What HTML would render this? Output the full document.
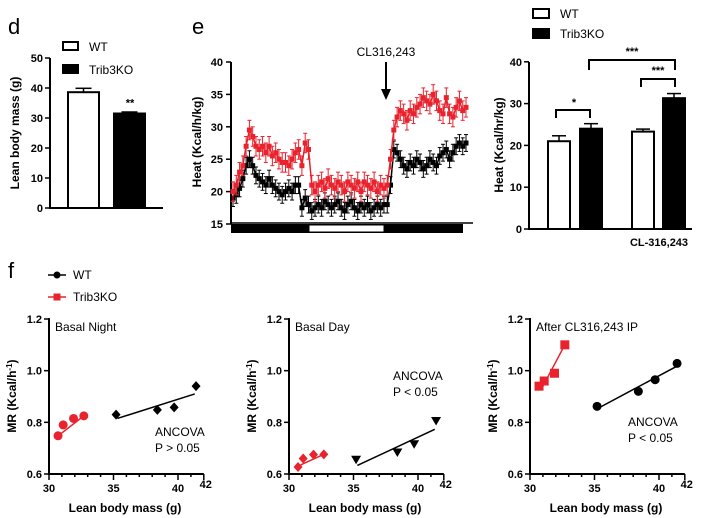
<!DOCTYPE html>
<html><head><meta charset="utf-8"><style>
html,body{margin:0;padding:0;background:#fff;}
svg{display:block;font-family:"Liberation Sans",Arial,sans-serif;}
.t{font-size:11px;font-weight:bold;}
.lab{font-size:12px;font-weight:bold;}
.n{font-size:12px;}
</style></head><body>
<svg id="fig" width="725" height="518" viewBox="0 0 725 518"></svg>
<script>
// ---- Panel d data ----
const dGroups=["WT","Trib3KO"];
const dVals=[38.6,31.5];
const dErr=[1.3,0.5];
const dTicks=[0,10,20,30,40,50];
// ---- Panel e time series ----
const eRed=[20,21,23,24,27,29.5,28.5,27,26.5,27,26,27,25.5,26,25,24.5,24.5,24,25,26,26.5,24,27.5,26.5,21,20,21,21.5,20.5,22,21,20.5,21.5,21,20,21.5,21,20.5,21.5,20,21.5,21,20.5,21.5,20,21,20.5,21,25,29.5,31.5,32.5,32,31,32.5,32,33,33.5,34.5,34,33.5,35,34,32.5,32,34.5,32,31.5,33,34,32.5,33];
const eBlack=[19,19.5,20.5,22,24,25,24,22.5,22,21.5,21,22,21,20.5,20,19.5,20,20.5,20,21,21,17.5,19,18,17,17.5,18,17.5,18.5,18,17.5,18,18.5,17.5,17,18,18.5,17.5,17,18,17.5,18,17,17.5,18,17.5,18,18,21,26.5,26,25,24,23.5,24.5,24,25,24.5,23.5,24,25,24.5,24,25.5,26,26.5,25,26,27,27.5,27,27.5];
const eTicks=[15,20,25,30,35,40];
// ---- Panel right bars ----
const hVals=[21,24,23.3,31.3];
const hErr=[1.3,1.2,0.6,1.1];
const hTicks=[0,10,20,30,40];
// ---- Scatter panels ----
const sTitles=["Basal Night","Basal Day","After CL316,243 IP"];
const sKoX=[[30.7,31.1,31.9,32.7],[30.7,31.1,31.9,32.7],[30.7,31.1,31.9,32.7]];
const sKoY=[[0.748,0.79,0.815,0.825],[0.627,0.66,0.675,0.676],[0.94,0.96,0.99,1.1]];
const sWtX=[[35.2,38.4,39.7,41.4],[35.2,38.4,39.7,41.4],[35.2,38.4,39.7,41.4]];
const sWtY=[[0.83,0.848,0.858,0.94],[0.655,0.683,0.715,0.805],[0.862,0.92,0.965,1.028]];
const sFitWt=[[0.815,0.91],[0.633,0.773],[0.855,1.015]];
const sFitKo=[[0.755,0.825],[0.635,0.676],[0.93,1.1]];
const sP=["P > 0.05","P < 0.05","P < 0.05"];
const sYTicks=[0.6,0.8,1.0,1.2];
const sXTicks=[30,35,40,42];

const svg=document.getElementById('fig');
const NS='http://www.w3.org/2000/svg';
function mk(tag,at,parent){const e=document.createElementNS(NS,tag);for(const k in at)e.setAttribute(k,at[k]);(parent||svg).appendChild(e);return e;}
function txt(x,y,s,cls,anchor,parent){const e=mk('text',{x:x,y:y,class:cls,'text-anchor':anchor||'start'},parent);e.textContent=s;return e;}

// ================= Panel d =================
(function(){
 const g=mk('g',{});
 
 
 const y=v=>208-v*3;
 const L=txt(8,34,'d','','start',g);L.setAttribute('font-size','22');
 mk('line',{x1:50,y1:58,x2:50,y2:208,stroke:'#000','stroke-width':2},g);
 mk('line',{x1:49,y1:208,x2:163,y2:208,stroke:'#000','stroke-width':2},g);
 dTicks.forEach(t=>{mk('line',{x1:45,y1:y(t),x2:50,y2:y(t),stroke:'#000','stroke-width':1.5},g);
  const tl=txt(43,y(t)+4,String(t),'t','end',g);
  
  });
 const xs=[68,114];
 dVals.forEach((v,i)=>{
  const b=mk('rect',{x:xs[i],y:y(v),width:31,height:208-y(v),fill:i?'#000':'#fff',stroke:'#000','stroke-width':2},g);
  
  
  const cx=xs[i]+15.5;
  mk('line',{x1:cx,y1:y(v),x2:cx,y2:y(v+dErr[i]),stroke:'#000','stroke-width':1.5},g);
  mk('line',{x1:cx-8,y1:y(v+dErr[i]),x2:cx+8,y2:y(v+dErr[i]),stroke:'#000','stroke-width':1.5},g);
 });
 txt(130,y(dVals[1])-7,'**','t','middle',g);
 const yl=txt(0,0,'Lean body mass (g)','lab','middle',g);
 yl.setAttribute('transform','translate(19,133) rotate(-90)');
 mk('rect',{x:63,y:42,width:15,height:8,fill:'#fff',stroke:'#000','stroke-width':2},g);
 txt(89,51,'WT','n','start',g);
 mk('rect',{x:63,y:65,width:15,height:8,fill:'#000',stroke:'#000','stroke-width':2},g);
 txt(89,74,'Trib3KO','n','start',g);
})();

// ================= Panel e =================
(function(){
 const g=mk('g',{});
 
 
 const y=v=>224-(v-15)*6.48;
 const n=eRed.length;
 const x=i=>233+i*(233/(n-1));
 const L=txt(192,34,'e','','start',g);L.setAttribute('font-size','22');
 mk('line',{x1:231,y1:62,x2:231,y2:224,stroke:'#000','stroke-width':2},g);
 mk('line',{x1:231,y1:223,x2:473,y2:223,stroke:'#000','stroke-width':1.5},g);
 eTicks.forEach(t=>{mk('line',{x1:226,y1:y(t),x2:231,y2:y(t),stroke:'#000','stroke-width':1.5},g);
  const tl=txt(223,y(t)+4,String(t),'t','end',g);
  
  });
 const lb=mk('rect',{x:231,y:224,width:232,height:9,fill:'#000'},g);
 mk('rect',{x:309,y:225,width:75,height:7,fill:'#fff',stroke:'#000','stroke-width':1},g);
 
 
 function series(arr,col,name,err){
  const sg=mk('g',{},g);
  
  
  let d='';
  arr.forEach((v,i)=>{d+=(i?'L':'M')+x(i).toFixed(1)+','+y(v).toFixed(1);});
  mk('path',{d:d,fill:'none',stroke:col,'stroke-width':1.5},sg);
  arr.forEach((v,i)=>{
   const e1=y(v-err),e2=y(v+err);
   mk('line',{x1:x(i),y1:e1,x2:x(i),y2:e2,stroke:col,'stroke-width':1},sg);
   mk('line',{x1:x(i)-2,y1:e2,x2:x(i)+2,y2:e2,stroke:col,'stroke-width':1},sg);
   mk('line',{x1:x(i)-2,y1:e1,x2:x(i)+2,y2:e1,stroke:col,'stroke-width':1},sg);
   mk('rect',{x:x(i)-2.5,y:y(v)-2.5,width:5,height:5,fill:col},sg);
  });
 }
 series(eBlack,'#000','series-wt',1.3);
 series(eRed,'#e8232e','series-trib3ko',1.5);
 mk('line',{x1:386,y1:62,x2:386,y2:92,stroke:'#000','stroke-width':2},g);
 mk('polygon',{points:'381,89 391,89 386,100',fill:'#000'},g);
 txt(386,56,'CL316,243','n','middle',g);
 const yl=txt(0,0,'Heat (Kcal/h/kg)','lab','middle',g);
 yl.setAttribute('transform','translate(201,142) rotate(-90)');
})();

// ================= Right bar panel =================
(function(){
 const g=mk('g',{});
 
 
 const y=v=>229-v*4.18;
 mk('line',{x1:529,y1:62,x2:529,y2:229,stroke:'#000','stroke-width':2},g);
 mk('line',{x1:528,y1:229,x2:692,y2:229,stroke:'#000','stroke-width':2},g);
 hTicks.forEach(t=>{mk('line',{x1:524,y1:y(t),x2:529,y2:y(t),stroke:'#000','stroke-width':1.5},g);
  const tl=txt(522,y(t)+4,String(t),'t','end',g);
  
  });
 const xs=[548,580,632,663];
 const names=['bar-wt-basal','bar-ko-basal','bar-wt-cl','bar-ko-cl'];
 hVals.forEach((v,i)=>{
  const b=mk('rect',{x:xs[i],y:y(v),width:22,height:229-y(v),fill:i%2?'#000':'#fff',stroke:'#000','stroke-width':2},g);
  
  
  const cx=xs[i]+11;
  mk('line',{x1:cx,y1:y(v),x2:cx,y2:y(v+hErr[i]),stroke:'#000','stroke-width':1.5},g);
  mk('line',{x1:cx-7,y1:y(v+hErr[i]),x2:cx+7,y2:y(v+hErr[i]),stroke:'#000','stroke-width':1.5},g);
 });
 const br=(x1,x2,yt,yb)=>mk('polyline',{points:`${x1},${yb} ${x1},${yt} ${x2},${yt} ${x2},${yb}`,fill:'none',stroke:'#000','stroke-width':2},g);
 br(556,590,110,118); txt(574,106,'*','t','middle',g);
 br(589,675,60,70); txt(632,55,'***','t','middle',g);
 br(641,675,79,87); txt(658,74,'***','t','middle',g);
 txt(659,246,'CL-316,243','t','middle',g);
 const yl=txt(0,0,'Heat (Kcal/hr/kg)','lab','middle',g);
 yl.setAttribute('transform','translate(503,145) rotate(-90)');
 mk('rect',{x:533,y:9,width:16,height:9,fill:'#fff',stroke:'#000','stroke-width':2},g);
 txt(560,18,'WT','n','start',g);
 mk('rect',{x:533,y:29,width:16,height:9,fill:'#000',stroke:'#000','stroke-width':2},g);
 txt(560,38,'Trib3KO','n','start',g);
})();

// ================= Panel f scatter =================
(function(){
 const L=txt(8,278,'f','','start');L.setAttribute('font-size','22');
 const lg=mk('g',{});
 
 
 mk('line',{x1:48,y1:275,x2:66,y2:275,stroke:'#000','stroke-width':1.5},lg);
 mk('circle',{cx:57,cy:275,r:3.5,fill:'#000'},lg);
 txt(73,279,'WT','n','start',lg);
 mk('line',{x1:48,y1:297,x2:66,y2:297,stroke:'#e8232e','stroke-width':1.5},lg);
 mk('rect',{x:53.5,y:293.5,width:7,height:7,fill:'#e8232e'},lg);
 txt(73,301,'Trib3KO','n','start',lg);
 const X0=[49,289,530];
 const koMk=['circle','diamond','square'];
 const wtMk=['diamond','tri','circle'];
 function marker(g,type,cx,cy,col){
  if(type==='circle')return mk('circle',{cx:cx,cy:cy,r:4.5,fill:col},g);
  if(type==='square')return mk('rect',{x:cx-4.5,y:cy-4.5,width:9,height:9,fill:col},g);
  if(type==='diamond')return mk('polygon',{points:`${cx},${cy-5} ${cx+4.5},${cy} ${cx},${cy+5} ${cx-4.5},${cy}`,fill:col},g);
  return mk('polygon',{points:`${cx-5},${cy-4} ${cx+5},${cy-4} ${cx},${cy+4.5}`,fill:col},g);
 }
 for(let p=0;p<3;p++){
  const g=mk('g',{});
  
  
  const ox=X0[p];
  const x=v=>ox+(v-30)*12.9;
  const y=v=>474-(v-0.6)*(155/0.6);
  mk('line',{x1:ox,y1:318,x2:ox,y2:475,stroke:'#000','stroke-width':2},g);
  mk('line',{x1:ox-1,y1:474,x2:x(42),y2:474,stroke:'#000','stroke-width':2},g);
  sYTicks.forEach(t=>{mk('line',{x1:ox-5,y1:y(t),x2:ox,y2:y(t),stroke:'#000','stroke-width':1.5},g);
   const tl=txt(ox-7,y(t)+4,t.toFixed(1),'t','end',g);
   
   });
  for(let v=30;v<=42;v++){const big=sXTicks.includes(v);
   mk('line',{x1:x(v),y1:474,x2:x(v),y2:474+(big?6:3),stroke:'#000','stroke-width':1.5},g);}
  sXTicks.forEach(t=>{const tl=txt(x(t)+(t===42?2:0),t===42?488:492,String(t),'t','middle',g);
   
   });
  txt(ox+76,512,'Lean body mass (g)','lab','middle',g);
  const yl=txt(0,0,'MR (Kcal/h','lab','middle',g);
  yl.setAttribute('transform',`translate(${ox-33},396) rotate(-90)`);
  const sup=mk('tspan',{dy:-4,'font-size':'8'},yl);sup.textContent='-1';
  const cl=mk('tspan',{dy:4},yl);cl.textContent=')';
  txt(ox+6,331,sTitles[p],'n','start',g);
  mk('line',{x1:x(35.3),y1:y(sFitWt[p][0]),x2:x(41.3),y2:y(sFitWt[p][1]),stroke:'#000','stroke-width':1.5},g);
  mk('line',{x1:x(30.9),y1:y(sFitKo[p][0]),x2:x(32.7),y2:y(sFitKo[p][1]),stroke:'#e8232e','stroke-width':1.5},g);
  sWtX[p].forEach((v,i)=>{const m=marker(g,wtMk[p],x(v),y(sWtY[p][i]),'#000');
   
   });
  sKoX[p].forEach((v,i)=>{const m=marker(g,koMk[p],x(v),y(sKoY[p][i]),'#e8232e');
   
   });
  const ay=[436,380,426][p], ax=[155,393,628][p];
  txt(ax,ay,'ANCOVA','n','start',g);
  txt(ax,ay+16,sP[p],'n','start',g);
 }
})();
</script>
</body></html>
